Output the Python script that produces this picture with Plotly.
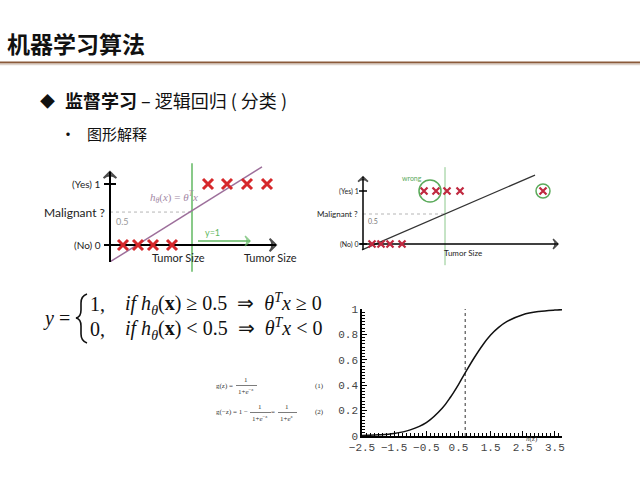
import plotly.graph_objects as go

W, H = 640, 480

# left sketch: straight-line fit, tumor size vs malignant
benign1_x = [1.3, 2.8, 4.3, 6.2]
malignant1_x = [9.8, 11.7, 13.7, 15.7]
fit1_x = [0.07, 15.2]
fit1_y = [-0.27, 1.28]
cut1_x = 8.2
half1_y = 0.54

# right sketch: same fit pulled by an outlier
benign2_x = [0.9, 1.8, 2.7, 3.9]
malignant2_x = [6.1, 7.3, 8.4, 9.7, 18.0]
fit2_x = [-0.1, 17.2]
fit2_y = [-0.11, 1.30]
cut2_x = 8.2
half2_y = 0.566
wrong_x = [6.7, 18.0]
wrong_r = [11, 7]

# sigmoid curve
sig_x = [-2.5, -2.0, -1.5, -1.0, -0.5, 0.0, 0.25, 0.5, 0.75, 1.0, 1.25, 1.5, 1.75, 2.0, 2.5, 3.0, 3.5, 3.72]
sig_y = [0.004, 0.009, 0.02, 0.048, 0.105, 0.22, 0.305, 0.405, 0.515, 0.62, 0.715, 0.795, 0.855, 0.9, 0.955, 0.98, 0.992, 0.995]
sig_mid = 0.71
sig_xticks = [-2.5, -1.5, -0.5, 0.5, 1.5, 2.5, 3.5]
sig_yticks = [0, 0.2, 0.4, 0.6, 0.8, 1]

RED1 = '#d6282b'
RED2 = '#c0283f'
GREEN = '#62b862'


def px(x):
    return x / W


def py(y):
    return 1 - y / H


fig = go.Figure()


def seg(xs, ys, xa, ya, color, width, dash='solid'):
    fig.add_trace(go.Scatter(x=xs, y=ys, mode='lines', line=dict(color=color, width=width, dash=dash),
                             xaxis=xa, yaxis=ya, hoverinfo='skip'))


def arrow(xs, ys, xa, ya, color, width, size):
    # line with an open arrowhead on its last point
    fig.add_trace(go.Scatter(x=xs, y=ys, mode='lines+markers', xaxis=xa, yaxis=ya, hoverinfo='skip',
                             line=dict(color=color, width=width),
                             marker=dict(symbol=['circle', 'arrow-wide-open'], size=[0, size],
                                         angleref='previous', color=color,
                                         line=dict(color=color, width=width))))


def crosses(xs, y, xa, ya, color, size, width):
    fig.add_trace(go.Scatter(x=xs, y=[y] * len(xs), mode='markers', xaxis=xa, yaxis=ya,
                             marker=dict(symbol='x-thin', size=size, line=dict(width=width, color=color))))


# ---- panel 1 ----
seg([cut1_x, cut1_x], [-0.44, 1.34], 'x', 'y', GREEN, 1.5)
seg([0, cut1_x], [half1_y, half1_y], 'x', 'y', '#b5b5b5', 1, 'dot')
seg(fit1_x, fit1_y, 'x', 'y', '#9d6f9b', 1.5)
arrow([0, 0], [-0.28, 1.2], 'x', 'y', 'black', 2, 9)
arrow([-0.3, 16.6], [0, 0], 'x', 'y', 'black', 2, 9)
seg([-0.6, 0.6, None, -0.6, 0.6], [1, 1, None, 0, 0], 'x', 'y', 'black', 2)
arrow([8.8, 14.0], [0.066, 0.066], 'x', 'y', GREEN, 1.5, 7)
crosses(benign1_x, 0, 'x', 'y', RED1, 10, 3)
crosses(malignant1_x, 1, 'x', 'y', RED1, 10, 3)

# ---- panel 2 ----
seg([cut2_x, cut2_x], [-0.40, 1.45], 'x2', 'y2', '#8cc88c', 1)
seg([0, cut2_x], [half2_y, half2_y], 'x2', 'y2', '#b5b5b5', 1, 'dot')
seg(fit2_x, fit2_y, 'x2', 'y2', '#333333', 1.2)
arrow([0, 0], [-0.11, 1.27], 'x2', 'y2', 'black', 1.5, 7)
arrow([-0.3, 19.5], [0, 0], 'x2', 'y2', 'black', 1.5, 7)
seg([-0.4, 0.4, None, -0.4, 0.4], [1, 1, None, 0, 0], 'x2', 'y2', 'black', 1.5)
crosses(benign2_x, 0, 'x2', 'y2', RED2, 7, 2.2)
crosses(malignant2_x, 1, 'x2', 'y2', RED2, 7, 2.2)

# ---- sigmoid ----
seg([sig_mid, sig_mid], [0, 1], 'x3', 'y3', '#555555', 1.2, 'dot')
fig.add_trace(go.Scatter(x=sig_x, y=sig_y, mode='lines', line_shape='spline',
                         line=dict(color='#111111', width=1.5), xaxis='x3', yaxis='y3'))

hidden = dict(visible=False, showgrid=False, zeroline=False)
mono = dict(family='Liberation Mono', size=11, color='#444')
fig.update_layout(
    width=W, height=H, autosize=False,
    margin=dict(l=0, r=0, t=0, b=0, pad=0, autoexpand=False),
    paper_bgcolor='white', plot_bgcolor='rgba(0,0,0,0)',
    showlegend=False,
    xaxis=dict(domain=[px(100), px(290)], range=[-1.0, 18.0], **hidden),
    yaxis=dict(domain=[py(272), py(160)], range=[-0.4426, 1.3934], **hidden),
    xaxis2=dict(domain=[px(355), px(570)], range=[-0.8, 20.7], anchor='y2', **hidden),
    yaxis2=dict(domain=[py(268), py(160)], range=[-0.4528, 1.5849], anchor='x2', **hidden),
    xaxis3=dict(domain=[px(362), px(562)], range=[-2.5, 3.72], anchor='y3',
                tickvals=sig_xticks, ticktext=[f'{v:.1f}'.replace('-', '\u2212') for v in sig_xticks],
                ticks='inside', ticklen=5, tickcolor='black', showline=True, linecolor='black', linewidth=1.5,
                minor=dict(dtick=0.125, tick0=-2.5, ticks='inside', ticklen=3, tickcolor='black'),
                showgrid=False, zeroline=False, tickfont=mono),
    yaxis3=dict(domain=[py(436), py(309)], range=[0, 1], anchor='x3',
                tickvals=sig_yticks, ticktext=['0', '0.2', '0.4', '0.6', '0.8', '1'],
                ticks='inside', ticklen=5, tickcolor='black', showline=True, linecolor='black', linewidth=1.5,
                minor=dict(dtick=0.025, tick0=0, ticks='inside', ticklen=3, tickcolor='black'),
                showgrid=False, zeroline=False, tickfont=mono),
)

# circles around the mislabeled points
for cx, r in zip(wrong_x, wrong_r):
    fig.add_shape(type='circle', xref='x2', yref='y2', xsizemode='pixel', ysizemode='pixel',
                  xanchor=cx, yanchor=1, x0=-r, x1=r, y0=-r, y1=r,
                  line=dict(color='#5aaa5a', width=1.5))

# header rule
fig.add_shape(type='line', xref='paper', yref='paper', x0=0, x1=1, y0=py(62.5), y1=py(62.5),
              line=dict(color='#8a5a3a', width=2))
fig.add_shape(type='line', xref='paper', yref='paper', x0=0, x1=1, y0=py(64.5), y1=py(64.5),
              line=dict(color='#ddd3cb', width=1.5))

# curly brace of the decision rule
bx, bt, bm, bb = 81, 294, 318, 343
p = [(bx + 6, bt), (bx, bt + 2), (bx, bt + 9), (bx, bm - 8), (bx, bm - 1), (bx - 5, bm),
     (bx, bm + 1), (bx, bm + 8), (bx, bb - 9), (bx, bb - 2), (bx + 6, bb)]
path = (f'M {px(p[0][0])},{py(p[0][1])} Q {px(p[1][0])},{py(p[1][1])} {px(p[2][0])},{py(p[2][1])} '
        f'L {px(p[3][0])},{py(p[3][1])} Q {px(p[4][0])},{py(p[4][1])} {px(p[5][0])},{py(p[5][1])} '
        f'Q {px(p[6][0])},{py(p[6][1])} {px(p[7][0])},{py(p[7][1])} '
        f'L {px(p[8][0])},{py(p[8][1])} Q {px(p[9][0])},{py(p[9][1])} {px(p[10][0])},{py(p[10][1])}')
fig.add_shape(type='path', xref='paper', yref='paper', path=path, line=dict(color='#111', width=1.6))

ann = []


def text(x, y, s, size, anchor='left', color='#111', family='Noto Sans CJK SC'):
    ann.append(dict(x=px(x), y=py(y), xref='paper', yref='paper', text=s, showarrow=False,
                    xanchor=anchor, yanchor='middle', font=dict(size=size, color=color, family=family)))


# slide text
text(5, 43, '<b>机器学习算法</b>', 23)
text(47, 100, '◆', 15, 'center')
text(63, 100, '<b>监督学习</b> – 逻辑回归 ( 分类 )', 18)
text(68, 133, '•', 16, 'center')
text(85, 133, '图形解释', 15)

# panel 1 labels
sans = 'Lato'
text(103, 184, '(Yes) 1', 10, 'right', '#222', sans)
text(107, 212, 'Malignant ?', 12, 'right', '#222', sans)
text(114, 221, '0.5', 9, 'left', '#999', sans)
text(103, 245, '(No) 0', 10, 'right', '#222', sans)
text(178, 257, 'Tumor Size', 11, 'center', '#222', sans)
text(270, 257, 'Tumor Size', 11, 'center', '#222', sans)
text(212, 232, 'y=1', 9, 'center', GREEN, sans)
text(174, 197, '<i>h</i><sub><i>θ</i></sub>(<i>x</i>) = <i>θ</i><sup><i>T</i></sup><i>x</i>', 11, 'center',
     '#a48aa6', 'Liberation Serif')

# panel 2 labels
text(361, 191, '(Yes) 1', 7, 'right', '#222', sans)
text(360, 214, 'Malignant ?', 8, 'right', '#222', sans)
text(366, 221, '0.5', 7, 'left', '#777', sans)
text(361, 244, '(No) 0', 7, 'right', '#222', sans)
text(463, 253, 'Tumor Size', 8, 'center', '#222', sans)
text(412, 178, 'wrong', 7, 'center', '#5aaa5a', sans)

# decision rule
serif = 'Liberation Serif'
text(41, 318, '<i>y</i> =', 20, 'left', '#111', serif)
text(88, 304, '1,', 20, 'left', '#111', serif)
text(88, 329, '0,', 20, 'left', '#111', serif)
text(123, 304, '<i>if h</i><sub><i>θ</i></sub>(<b>x</b>) ≥ 0.5  ⇒  <i>θ</i><sup><i>T</i></sup><i>x</i> ≥ 0', 20,
     'left', '#111', serif)
text(123, 329, '<i>if h</i><sub><i>θ</i></sub>(<b>x</b>) &lt; 0.5  ⇒  <i>θ</i><sup><i>T</i></sup><i>x</i> &lt; 0', 20,
     'left', '#111', serif)

# small sigmoid identities
f = 7
text(214, 386, 'g(z) =', f, 'left', '#333', serif)
text(246, 380, '1', f, 'center', '#333', serif)
text(246, 391, '1+<i>e</i><sup>−z</sup>', f, 'center', '#333', serif)
text(319, 386, '(1)', f, 'center', '#333', serif)
text(214, 412, 'g(−z) = 1 −', f, 'left', '#333', serif)
text(260, 407, '1', f, 'center', '#333', serif)
text(260, 418, '1+<i>e</i><sup>−z</sup>', f, 'center', '#333', serif)
text(273, 412, '=', f, 'center', '#333', serif)
text(287, 407, '1', f, 'center', '#333', serif)
text(287, 418, '1+<i>e</i><sup>z</sup>', f, 'center', '#333', serif)
text(319, 412, '(2)', f, 'center', '#333', serif)
for x0, x1, y in [(236, 257, 385.5), (250, 271, 412.5), (278, 297, 412.5)]:
    fig.add_shape(type='line', xref='paper', yref='paper', x0=px(x0), x1=px(x1), y0=py(y), y1=py(y),
                  line=dict(color='#444', width=0.7))

text(532, 439, '<i>h</i>(z)', 7, 'center', '#444', serif)

fig.update_layout(annotations=ann)
# the page's default body margin would push the slide 8px right and down
fig.write_html('out.html', config={'displayModeBar': False},
               post_script="document.body.style.margin='0';")
